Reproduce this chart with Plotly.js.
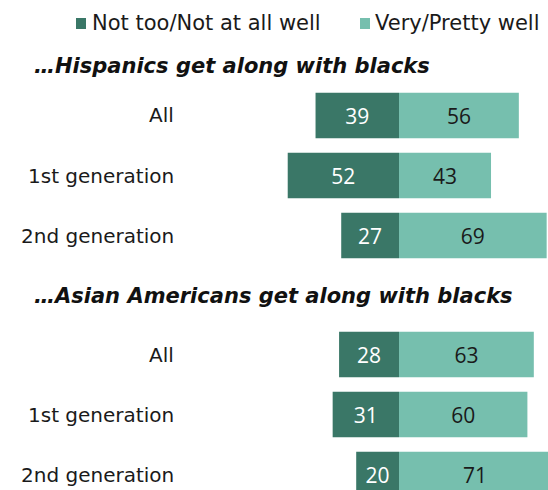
<!DOCTYPE html>
<html><head><meta charset="utf-8">
<script src="https://cdn.plot.ly/plotly-3.0.1.min.js"></script>
<style>html,body{margin:0;padding:0;background:#fff}</style>
</head><body>
<div id="chart" style="width:548px;height:490px"></div>
<script>
const categories = ["All", "1st generation", "2nd generation"];
const groupTitles = ["…Hispanics get along with blacks", "…Asian Americans get along with blacks"];
const seriesNames = ["Not too/Not at all well", "Very/Pretty well"];
const hispNotWell = [39, 52, 27];
const hispWell = [56, 43, 69];
const asianNotWell = [28, 31, 20];
const asianWell = [63, 60, 71];

const darkC = "#3a7767";
const lightC = "#76bfae";
const numFont = "Open Sans, DejaVu Sans, sans-serif";
const labFont = "DejaVu Sans, Verdana, sans-serif";

function barsFor(notWell, well, yax) {
  return [
    {type: "bar", orientation: "h", name: seriesNames[0], y: categories, x: notWell.map(v => -v),
     text: notWell.map(String), textposition: "inside", insidetextanchor: "middle",
     textfont: {family: numFont, size: 21, color: "#ffffff"}, marker: {color: darkC},
     yaxis: yax, width: 0.76, showlegend: false, hoverinfo: "skip", cliponaxis: true, textangle: 0},
    {type: "bar", orientation: "h", name: seriesNames[1], y: categories, x: well,
     text: well.map(String), textposition: "inside", insidetextanchor: "middle",
     textfont: {family: numFont, size: 21, color: "#1a1a1a"}, marker: {color: lightC},
     yaxis: yax, width: 0.76, showlegend: false, hoverinfo: "skip", cliponaxis: true, textangle: 0}
  ];
}

const data = [...barsFor(hispNotWell, hispWell, "y"), ...barsFor(asianNotWell, asianWell, "y2")];

const H = 490, W = 548;
const pxPerUnit = 2.14;
const center = 399;

const annotations = [];
categories.forEach(c => {
  annotations.push({xref: "paper", yref: "y", x: 176 / W, y: c, text: c, showarrow: false,
    xanchor: "right", yanchor: "middle", font: {family: labFont, size: 20, color: "#1a1a1a"}});
  annotations.push({xref: "paper", yref: "y2", x: 176 / W, y: c, text: c, showarrow: false,
    xanchor: "right", yanchor: "middle", font: {family: labFont, size: 20, color: "#1a1a1a"}});
});
annotations.push({xref: "paper", yref: "paper", x: 32 / W, y: 1 - 66 / H, text: "<b><i>" + groupTitles[0] + "</i></b>",
  showarrow: false, xanchor: "left", yanchor: "middle", font: {family: labFont, size: 21, color: "#111"}});
annotations.push({xref: "paper", yref: "paper", x: 32 / W, y: 1 - 296 / H, text: "<b><i>" + groupTitles[1] + "</i></b>",
  showarrow: false, xanchor: "left", yanchor: "middle", font: {family: labFont, size: 21, color: "#111"}});
// legend
annotations.push({xref: "paper", yref: "paper", x: 90 / W, y: 1 - 23 / H, text: seriesNames[0],
  showarrow: false, xanchor: "left", yanchor: "middle", font: {family: labFont, size: 21, color: "#1a1a1a"}});
annotations.push({xref: "paper", yref: "paper", x: 373 / W, y: 1 - 23 / H, text: seriesNames[1],
  showarrow: false, xanchor: "left", yanchor: "middle", font: {family: labFont, size: 21, color: "#1a1a1a"}});

const shapes = [
  {type: "rect", xref: "paper", yref: "paper", x0: 76 / W, x1: 86 / W, y0: 1 - 29 / H, y1: 1 - 18 / H, fillcolor: darkC, line: {width: 0}},
  {type: "rect", xref: "paper", yref: "paper", x0: 360 / W, x1: 370 / W, y0: 1 - 29 / H, y1: 1 - 18 / H, fillcolor: lightC, line: {width: 0}}
];

const layout = {
  width: W, height: H,
  margin: {l: 0, r: 0, t: 0, b: 0, pad: 0},
  paper_bgcolor: "#fff", plot_bgcolor: "#fff",
  barmode: "relative",
  showlegend: false,
  xaxis: {range: [-center / pxPerUnit, (W - center) / pxPerUnit], visible: false, fixedrange: true},
  yaxis: {domain: [(H - 265.5) / H, (H - 85.5) / H], range: [2.5, -0.5], type: "category",
          visible: false, fixedrange: true},
  yaxis2: {domain: [0, (H - 324.5) / H], range: [2.5 - 14.5 / 60, -0.5], type: "category",
           visible: false, fixedrange: true},
  annotations: annotations,
  shapes: shapes,
  uniformtext: {mode: false}
};

Plotly.newPlot("chart", data, layout, {displayModeBar: false, staticPlot: true});
</script>
</body></html>
